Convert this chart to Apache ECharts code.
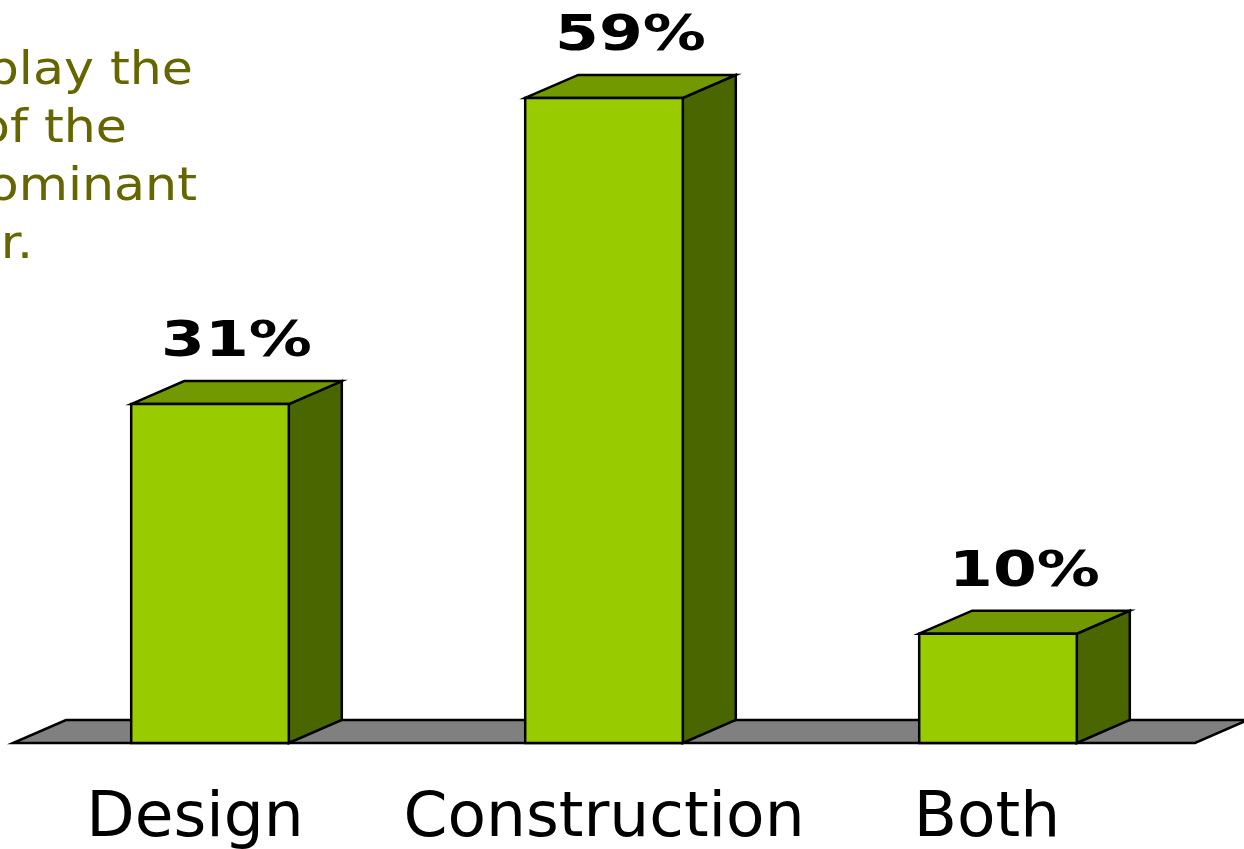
<!DOCTYPE html>
<html>
<head>
<meta charset="utf-8">
<script src="https://cdn.jsdelivr.net/npm/echarts@6/dist/echarts.min.js"></script>
<style>
html,body{margin:0;padding:0;background:#fff;overflow:hidden;}
#chart{width:1244px;height:849px;}
</style>
</head>
<body>
<div id="chart"></div>
<script>
// ---- data ----
var categories = ['Design', 'Construction', 'Both'];
var values = [31, 59, 10];
var valueLabels = ['31%', '59%', '10%'];
var noteLines = ['display the', 'makeup of the', 'predominant', 'contractor.'];

// ---- style ----
var DEPTH_X = 53, DEPTH_Y = -23;
var FRONT = '#99CC00', TOP = '#739900', SIDE = '#4A6600', FLOOR = '#808080';
var labelShift = {Design: 30, Construction: 0, Both: 22};
var noteRights = [193, 127, 197, 33];

var chart = echarts.init(document.getElementById('chart'), null, {renderer: 'canvas'});

function renderFloor(params, api) {
  var band = api.size([1, 0])[0];
  var a = api.coord([0, 0]);
  var b = api.coord([categories.length - 1, 0]);
  var x0 = a[0] - band / 2, x1 = b[0] + band / 2, y = a[1];
  return {
    type: 'polygon',
    shape: {points: [[x0, y], [x1, y], [x1 + DEPTH_X, y + DEPTH_Y], [x0 + DEPTH_X, y + DEPTH_Y]]},
    style: {fill: FLOOR, stroke: '#000', lineWidth: 2.5}
  };
}

function renderBar(params, api) {
  var idx = api.value(0), val = api.value(1);
  var top = api.coord([idx, val]);
  var base = api.coord([idx, 0]);
  var band = api.size([1, 0])[0];
  var w = band * 0.4;
  var xl = top[0] - w / 2, xr = top[0] + w / 2, yt = top[1], yb = base[1];
  var dx = DEPTH_X, dy = DEPTH_Y;
  var st = {stroke: '#000', lineWidth: 2.5, lineJoin: 'miter'};
  return {
    type: 'group',
    children: [
      {type: 'polygon', shape: {points: [[xr, yt], [xr + dx, yt + dy], [xr + dx, yb + dy], [xr, yb]]},
        style: Object.assign({fill: SIDE}, st)},
      {type: 'polygon', shape: {points: [[xl, yt], [xl + dx, yt + dy], [xr + dx, yt + dy], [xr, yt]]},
        style: Object.assign({fill: TOP}, st)},
      {type: 'rect', shape: {x: xl, y: yt, width: w, height: yb - yt},
        style: Object.assign({fill: FRONT}, st)},
      {type: 'text', x: top[0] + dx / 2, y: yt + dy - 13, scaleX: 1.26, scaleY: 1,
        style: {text: valueLabels[idx], x: 0, y: 0, align: 'center', verticalAlign: 'bottom',
          fill: '#000', font: 'bold 50px "DejaVu Sans"'}}
    ]
  };
}

function renderNote(params, api) {
  return {
    type: 'group',
    children: noteLines.map(function (t, i) {
      return {
        type: 'text', x: noteRights[i], y: 87 + i * 58 - 15, scaleX: 1.1, scaleY: 1,
        style: {text: t, x: 0, y: 0, align: 'right', verticalAlign: 'middle', fill: '#666600',
          font: '46px "DejaVu Sans"'}
      };
    })
  };
}

function richFor(name) {
  return {fontSize: 63, fontFamily: 'DejaVu Sans', color: '#000', padding: [0, labelShift[name], 0, 0]};
}

chart.setOption({
  animation: false,
  grid: {left: 13, right: 49, top: 87, bottom: 106, containLabel: false, outerBoundsMode: 'none'},
  xAxis: {
    type: 'category', data: categories,
    axisLine: {show: false}, axisTick: {show: false}, splitLine: {show: false},
    axisLabel: {
      color: '#000', fontSize: 63, fontFamily: 'DejaVu Sans', margin: 45, interval: 0,
      formatter: function (v) { return '{' + v + '|' + v + '}'; },
      rich: {Design: richFor('Design'), Construction: richFor('Construction'), Both: richFor('Both')}
    }
  },
  yAxis: {type: 'value', min: 0, max: 60, show: false},
  series: [
    {type: 'custom', renderItem: renderFloor, data: [[0, 0]], z: 1, silent: true},
    {type: 'custom', renderItem: renderBar, z: 2,
      data: values.map(function (v, i) { return [i, v]; })},
    {type: 'custom', coordinateSystem: 'none', renderItem: renderNote, data: [0], z: 3, silent: true}
  ]
});
</script>
</body>
</html>
